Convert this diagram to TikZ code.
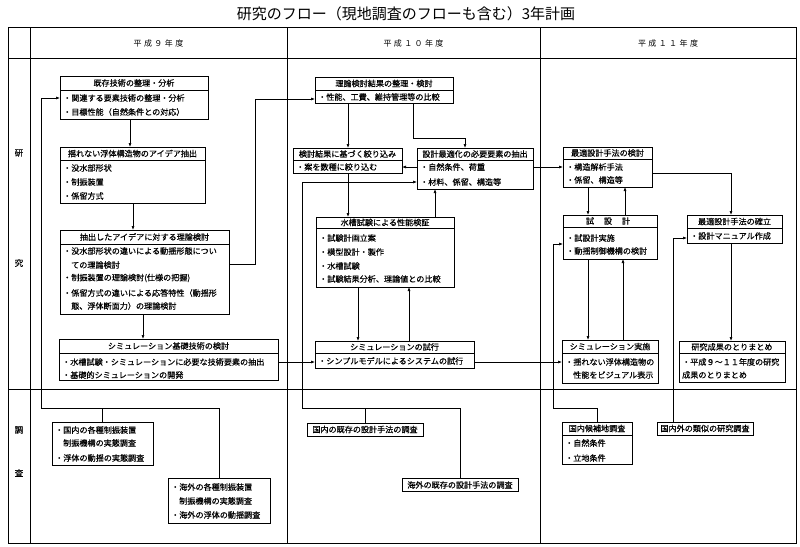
\documentclass[tikz,border=0pt]{standalone}
\usepackage{fontspec}
\setmainfont{Noto Sans CJK JP}
\usetikzlibrary{arrows.meta}
\newcounter{lnc}
\newcommand\bodyf{\fontsize{8.1}{10}\selectfont\addfontfeature{FakeBold=0.5}}
\newcommand\tline[3]{\stepcounter{lnc}\node[bodytext] (L\arabic{lnc}) at (#1,#2) {#3};}
\newcommand\ttext[3]{\stepcounter{lnc}\node[titletext] (T\arabic{lnc}) at (#1,#2) {#3};}
\newcommand\boxat[5]{\node[frame, minimum width={(#4)-(#2)}, minimum height={(#5)-(#3)}] (#1) at ({((#2)+(#4))/2},{((#3)+(#5))/2}) {};}
\newcommand\divline[2]{\draw[boxline] (#1.west |- 0,#2) -- (#1.east |- 0,#2);}
\tikzset{
 frame/.style={draw, line width=0.8pt, inner sep=0pt, outer sep=0pt},
 boxline/.style={line width=0.7pt},
 bodytext/.style={anchor=west, inner sep=0pt, font=\bodyf},
 titletext/.style={anchor=center, inner sep=0pt, font=\bodyf},
 arr/.style={line width=0.6pt, -{Latex[length=4pt,width=3pt]}},
 conn/.style={line width=0.6pt},
 tbl/.style={line width=0.8pt},
 sbox/.style={draw, line width=0.8pt, font=\bodyf, inner sep=0pt, outer sep=0pt, minimum height=13pt},
 hdr/.style={inner sep=0pt, font=\fontsize{8}{10}\selectfont\addfontfeature{LetterSpace=30}},
 lbl/.style={inner sep=0pt, font=\fontsize{8.5}{10}\selectfont\addfontfeature{FakeBold=0.5}},
}
\begin{document}
\begin{tikzpicture}[x=1pt,y=-1pt]
\useasboundingbox (0,0) rectangle (800,546);
% title
\node[inner sep=0pt, font=\fontsize{15}{17}\selectfont] (title) at (406,14) {研究のフロー（現地調査のフローも含む）3年計画};
% table
\node[draw, tbl, minimum width=788, minimum height=516, inner sep=0pt, outer sep=0pt] (tab) at (402,285) {};
\draw[tbl] (tab.west |- 0,58) -- (tab.east |- 0,58);
\draw[tbl] (tab.west |- 0,389) -- (tab.east |- 0,389);
\draw[tbl] (30,0 |- tab.north) -- (30,0 |- tab.south);
\draw[tbl] (287,0 |- tab.north) -- (287,0 |- tab.south);
\draw[tbl] (540,0 |- tab.north) -- (540,0 |- tab.south);
\node[hdr] (h1) at (158.5,43) {平成９年度};
\node[hdr] (h2) at (413.5,43) {平成１０年度};
\node[hdr] (h3) at (668,43) {平成１１年度};
\node[lbl] (r1) at (19,153) {研};
\node[lbl] (r2) at (19,263) {究};
\node[lbl] (s1) at (19,430) {調};
\node[lbl] (s2) at (19,473) {査};

% ---- column 1
\boxat{kizon}{60}{76}{208}{119}\divline{kizon}{90}
\ttext{134}{83}{既存技術の整理・分析}
\tline{63}{98}{・関連する要素技術の整理・分析}
\tline{63}{112}{・目標性能（自然条件との対応）}

\boxat{idea}{60}{147}{205}{203}\divline{idea}{160}
\ttext{132.5}{153.5}{揺れない浮体構造物のアイデア抽出}
\tline{63}{168}{・没水部形状}
\tline{63}{182}{・制振装置}
\tline{63}{196}{・係留方式}

\boxat{riron}{60}{230}{229}{314}\divline{riron}{244}
\ttext{144.5}{237}{抽出したアイデアに対する理論検討}
\tline{63}{251}{・没水部形状の違いによる動揺形態につい}
\tline{71}{265}{ての理論検討}
\tline{63}{278}{・制振装置の理論検討(仕様の把握)}
\tline{63}{293}{・係留方式の違いによる応答特性（動揺形}
\tline{71}{306}{態、浮体断面力）の理論検討}

\boxat{simbasic}{59}{339}{278}{380}\divline{simbasic}{353}
\ttext{168.5}{346}{シミュレーション基礎技術の検討}
\tline{62}{362}{・水槽試験・シミュレーションに必要な技術要素の抽出}
\tline{62}{375}{・基礎的シミュレーションの開発}

% ---- column 2
\boxat{rkekka}{315}{77}{453}{103}\divline{rkekka}{90}
\ttext{384}{83.5}{理論検討結果の整理・検討}
\tline{318}{97}{・性能、工費、維持管理等の比較}

\boxat{kentou}{293}{148}{402}{173}\divline{kentou}{160}
\ttext{347.5}{154}{検討結果に基づく絞り込み}
\tline{296}{167}{・案を数種に絞り込む}

\boxat{sekkei}{417}{148}{533}{189}\divline{sekkei}{160}
\ttext{475}{154}{設計最適化の必要要素の抽出}
\tline{420}{167}{・自然条件、荷重}
\tline{420}{182}{・材料、係留、構造等}

\boxat{suisou}{316}{217}{454}{287}\divline{suisou}{228}
\ttext{385}{222.5}{水槽試験による性能検証}
\tline{319}{238}{・試験計画立案}
\tline{319}{252}{・模型設計・製作}
\tline{319}{266}{・水槽試験}
\tline{319}{279}{・試験結果分析、理論値との比較}

\boxat{simtrial}{315}{341}{474}{368}\divline{simtrial}{353}
\ttext{394.5}{347}{シミュレーションの試行}
\tline{318}{361}{・シンプルモデルによるシステムの試行}

% ---- column 3
\boxat{saiteki}{563}{147}{652}{187}\divline{saiteki}{159}
\ttext{607.5}{153}{最適設計手法の検討}
\tline{566}{167}{・構造解析手法}
\tline{566}{180}{・係留、構造等}

\boxat{shisekkei}{563}{215}{657}{259}\divline{shisekkei}{227}
\ttext{608}{221}{試　 設　 計}
\tline{566}{238}{・試設計実施}
\tline{566}{251}{・動揺制御機構の検討}

\boxat{kakuritsu}{687}{215}{782}{243}\divline{kakuritsu}{228}
\ttext{734.5}{221.5}{最適設計手法の確立}
\tline{690}{236}{・設計マニュアル作成}

\boxat{simjisshi}{562}{340}{658}{383}\divline{simjisshi}{353}
\ttext{610}{346.5}{シミュレーション実施}
\tline{565}{362}{・揺れない浮体構造物の}
\tline{573}{375}{性能をビジュアル表示}

\boxat{seika}{679}{341}{785}{382}\divline{seika}{353}
\ttext{732}{347}{研究成果のとりまとめ}
\tline{682}{362}{・平成９～１１年度の研究}
\tline{682}{375}{成果のとりまとめ}

% ---- survey
\boxat{kokunai1}{52}{422}{153}{465}
\tline{55}{430}{・国内の各種制振装置}
\tline{63}{443}{制振機構の実態調査}
\tline{55}{458}{・浮体の動揺の実態調査}

\boxat{kaigai1}{168}{478}{270}{523}
\tline{171}{487}{・海外の各種制振装置}
\tline{179}{501}{制振機構の実態調査}
\tline{171}{515}{・海外の浮体の動揺調査}

\node[sbox, minimum width=116] (kokunai2) at (365,429.5) {国内の既存の設計手法の調査};
\node[sbox, minimum width=116] (kaigai2) at (460,485) {海外の既存の設計手法の調査};

\boxat{kouho}{562}{422}{632}{464}\divline{kouho}{435}
\ttext{597}{428.5}{国内候補地調査}
\tline{565}{443}{・自然条件}
\tline{565}{458}{・立地条件}

\node[sbox, minimum width=96] (ruiji) at (705,428.5) {国内外の類似の研究調査};

% ---- connectors column 1
\draw[arr] (130,0 |- kizon.south) -- (130,0 |- idea.north);
\draw[arr] (133,0 |- idea.south) -- (133,0 |- riron.north);
\draw[arr] (143,0 |- riron.south) -- (143,0 |- simbasic.north);
\draw[arr] (riron.east |- 0,264) -| (255,99) -- (rkekka.west |- 0,99);
\draw[arr] (simbasic.east |- 0,362) -- (simtrial.west |- 0,362);

% ---- connectors column 2
\draw[arr] (348,0 |- rkekka.south) -- (348,0 |- kentou.north);
\draw[arr] (413,0 |- rkekka.south) |- (465,138) -- (465,0 |- sekkei.north);
\draw[arr] (sekkei.west |- 0,167) -- (kentou.east |- 0,167);
\draw[arr] (sekkei.east |- 0,167) -- (saiteki.west |- 0,167);
\draw[arr] (348,0 |- kentou.south) -- (348,0 |- suisou.north);
\draw[arr] (435,0 |- suisou.north) -- (435,0 |- sekkei.south);
\draw[arr] (358,0 |- suisou.south) -- (358,0 |- simtrial.north);
\draw[arr] (409,0 |- simtrial.north) -- (409,0 |- suisou.south);
\draw[arr] (simtrial.east |- 0,362) -- (simjisshi.west |- 0,362);

% ---- connectors column 3
\draw[arr] (588,0 |- saiteki.south) -- (588,0 |- shisekkei.north);
\draw[arr] (625,0 |- shisekkei.north) -- (625,0 |- saiteki.south);
\draw[arr] (saiteki.east |- 0,173) -| (731,0 |- kakuritsu.north);
\draw[arr] (588,0 |- shisekkei.south) -- (588,0 |- simjisshi.north);
\draw[arr] (623,0 |- simjisshi.north) -- (623,0 |- shisekkei.south);
\draw[arr] (731,0 |- kakuritsu.south) -- (731,0 |- seika.north);

% ---- survey connectors
\draw[arr] (kokunai1.north) |- (41,408) |- (kizon.west |- 0,98);
\draw[conn] (kaigai1.north) |- (kokunai1.north |- 0,408);
\draw[arr] (kokunai2.north) |- (302,408) |- (sekkei.west |- 0,182);
\draw[conn] (kaigai2.north) |- (kokunai2.north |- 0,408);
\draw[arr] (kouho.north) |- (553,408) |- (shisekkei.west |- 0,244);
\draw[arr] (673,0 |- ruiji.north) |- (kakuritsu.west |- 0,238);
\end{tikzpicture}
\end{document}
